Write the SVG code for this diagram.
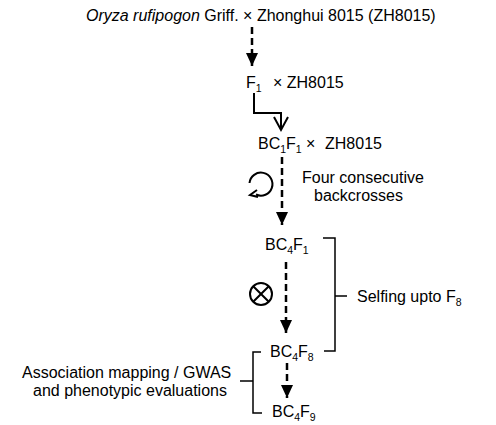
<svg xmlns="http://www.w3.org/2000/svg" width="496" height="425" viewBox="0 0 496 425">
<defs>
<style>
text{font-family:"Liberation Sans",Arial,sans-serif;font-size:16px;fill:#000}
.sub{font-size:10.5px}
.dash{stroke:#000;stroke-width:2.5;stroke-dasharray:7,4;fill:none}
.line{stroke:#000;stroke-width:2;fill:none}
.br{stroke:#000;stroke-width:1.5;fill:none}
</style>
<marker id="tri" viewBox="0 0 13 12" refX="13" refY="6" markerWidth="13" markerHeight="12" markerUnits="userSpaceOnUse" orient="auto">
<path d="M0,0 L13,6 L0,12 Z" fill="#000"/>
</marker>
</defs>
<rect width="496" height="425" fill="#fff"/>
<g id="n-cross">
<text x="86" y="21"><tspan font-style="italic">Oryza rufipogon</tspan> Griff. × Zhonghui 8015 (ZH8015)</text>
</g>
<g id="n-f1">
<text x="246" y="88">F<tspan class="sub" dy="4">1</tspan><tspan dy="-4" x="273">× ZH8015</tspan></text>
</g>
<g id="n-bc1f1">
<text x="258" y="149">BC<tspan class="sub" dy="4">1</tspan><tspan dy="-4">F</tspan><tspan class="sub" dy="4">1</tspan><tspan dy="-4" x="306">×</tspan><tspan x="325">ZH8015</tspan></text>
</g>
<g id="n-note1">
<text x="302" y="183">Four consecutive</text>
<text x="314" y="201">backcrosses</text>
</g>
<g id="n-bc4f1">
<text x="265" y="250">BC<tspan class="sub" dy="4">4</tspan><tspan dy="-4">F</tspan><tspan class="sub" dy="4">1</tspan></text>
</g>
<g id="n-selfing">
<text x="357" y="302">Selfing upto F<tspan class="sub" dy="4">8</tspan></text>
</g>
<g id="n-bc4f8">
<text x="270" y="357">BC<tspan class="sub" dy="4">4</tspan><tspan dy="-4">F</tspan><tspan class="sub" dy="4">8</tspan></text>
</g>
<g id="n-bc4f9">
<text x="272" y="417">BC<tspan class="sub" dy="4">4</tspan><tspan dy="-4">F</tspan><tspan class="sub" dy="4">9</tspan></text>
</g>
<g id="n-assoc">
<text x="22" y="378">Association mapping / GWAS</text>
<text x="33" y="396">and phenotypic evaluations</text>
</g>
<g id="n-loop">
<path class="line" d="M249.5,183 A11.5,11.5 0 1 1 256,194.5"/>
<path class="line" d="M257,190 L250,195 L258,197"/>
</g>
<g id="n-self">
<circle class="line" cx="261" cy="294" r="11"/>
<path class="line" d="M253.2,286.2 L268.8,301.8 M268.8,286.2 L253.2,301.8"/>
</g>
<g id="connectors">
<path class="dash" d="M252,27 V66" marker-end="url(#tri)"/>
<path class="line" d="M254,93 V113 H281 V129"/>
<path class="line" d="M274,117 L281,130 L288,117"/>
<path class="dash" d="M282,157 V225" marker-end="url(#tri)"/>
<path class="dash" d="M286,262 V333" marker-end="url(#tri)"/>
<path class="dash" d="M287,363 V398" marker-end="url(#tri)"/>
<path class="br" d="M323,238 H335 V351 H324 M335,296 H347"/>
<path class="br" d="M261,352 H253 V413 H262 M253,381 H240"/>
</g>
</svg>
